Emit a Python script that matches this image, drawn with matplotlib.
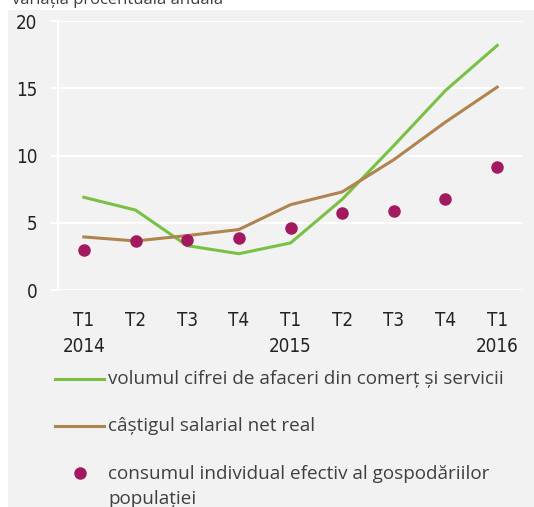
import matplotlib
matplotlib.use('Agg')
import matplotlib.pyplot as plt
from matplotlib.lines import Line2D
from matplotlib.patches import Rectangle

quarters = ['T1\n2014', 'T2', 'T3', 'T4', 'T1\n2015', 'T2', 'T3', 'T4', 'T1\n2016']
cifra_afaceri = [6.9, 5.95, 3.3, 2.7, 3.5, 6.75, 10.75, 14.85, 18.2]
castig_salarial = [3.95, 3.65, 4.05, 4.5, 6.35, 7.3, 9.7, 12.5, 15.1]
consum_individual = [3.0, 3.65, 3.7, 3.9, 4.65, 5.7, 5.85, 6.75, 9.15]

lbl_afaceri = 'volumul cifrei de afaceri din comerț și servicii'
lbl_salarial = 'câștigul salarial net real'
lbl_consum = 'consumul individual efectiv al gospodăriilor\npopulației'
titlu = 'variația procentuală anuală'

green = '#79c143'
brown = '#b0834f'
purple = '#a3195f'
bg = '#f2f2f2'

W, H = 534, 507
fig = plt.figure(figsize=(W / 100, H / 100), dpi=100)

def fx(px):
    return px / W

def fy(py):
    return 1 - py / H

# grey panel behind everything
fig.patches.append(Rectangle((fx(8), 0), 1 - fx(8), fy(10), transform=fig.transFigure,
                             facecolor=bg, edgecolor='none', zorder=-5))
fig.text(fx(12), fy(4), titlu, fontsize=12, color='#404040', family=['Open Sans', 'DejaVu Sans'],
         va='baseline', ha='left')

ax = fig.add_axes([fx(58), fy(290), fx(523) - fx(58), fy(21.3) - fy(290)])
ax.set_facecolor('none')
x = range(len(quarters))
ax.plot(x, cifra_afaceri, color=green, lw=2.2, zorder=3)
ax.plot(x, castig_salarial, color=brown, lw=2.2, zorder=3)
ax.plot(x, consum_individual, 'o', color=purple, ms=8, zorder=4)

ax.set_xlim(-0.5, 8.5)
ax.set_ylim(0, 20)
ax.set_yticks([0, 5, 10, 15, 20])
ax.set_xticks(list(x))
tick_kw = dict(family='DejaVu Sans', fontstretch='condensed', fontsize=13.5, color='#222222')
ax.set_xticklabels(quarters, linespacing=1.5, **tick_kw)
ax.set_yticklabels([0, 5, 10, 15, 20], **tick_kw)
ax.grid(axis='y', color='white', lw=1.5, zorder=1)
ax.set_axisbelow(True)
ax.tick_params(axis='y', length=5, width=1.5, color='white', pad=10)
ax.tick_params(axis='x', length=0, pad=15)
for side in ['top', 'right', 'bottom']:
    ax.spines[side].set_visible(False)
ax.spines['left'].set_color('white')
ax.spines['left'].set_linewidth(1.5)

# legend
leg_font = ['Open Sans', 'DejaVu Sans']
fig.add_artist(Line2D([fx(55), fx(104)], [fy(379), fy(379)], color=green, lw=2.2))
fig.add_artist(Line2D([fx(55), fx(104)], [fy(425.6), fy(425.6)], color=brown, lw=2.2))
fig.add_artist(Line2D([fx(80)], [fy(472.6)], marker='o', color=purple, ms=8, lw=0))
fig.text(fx(108), fy(379), lbl_afaceri, fontsize=13.6, color='#404040', family=leg_font, va='center')
fig.text(fx(108), fy(425.6), lbl_salarial, fontsize=13.6, color='#404040', family=leg_font, va='center')
fig.text(fx(108), fy(486.5), lbl_consum, fontsize=13.6, color='#404040', family=leg_font, va='center',
         linespacing=1.45)

fig.savefig('out.png', dpi=100)
